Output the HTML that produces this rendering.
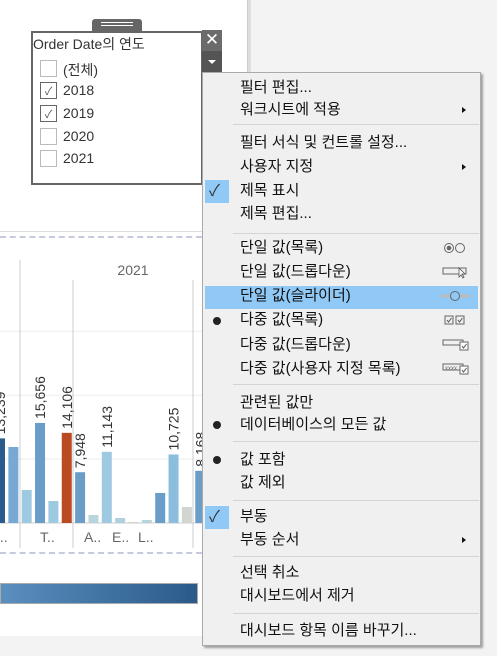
<!DOCTYPE html>
<html><head><meta charset="utf-8"><style>
*{margin:0;padding:0;box-sizing:border-box}
body{width:497px;height:656px;position:relative;overflow:hidden;background:#f3f3f3;font-family:"Liberation Sans","Noto Sans CJK KR",sans-serif}
.abs{position:absolute}
.mi{position:absolute;left:240px;font-size:15px;color:#111;line-height:22px;white-space:nowrap}
.sep{position:absolute;left:233px;width:246px;height:1px;background:#d4d4d4}
.arr{position:absolute;left:462px;width:0;height:0;border-top:3px solid transparent;border-bottom:3px solid transparent;border-left:4px solid #111}
.chk{position:absolute;left:205px;width:24px;height:23px;background:#90c8f6}
.dot{position:absolute;left:213px;width:8px;height:8px;border-radius:50%;background:#222}
.cb{position:absolute;left:40px;width:17px;height:17px;border:1px solid #bbb;background:#fff}
.cbl{position:absolute;left:63px;font-size:14px;color:#333}
</style></head><body>
<div class="abs" style="left:0;top:0;width:247px;height:636px;background:#fff"></div>
<div class="abs" style="left:247px;top:0;width:4px;height:636px;background:#ddd;border-left:1px solid #ccc"></div>
<div class="abs" style="left:0;top:231px;width:247px;height:1px;background:#ddd"></div>
<div class="abs" style="left:0;top:236px;width:202px;border-top:2px dashed #c5cbdc"></div>
<div class="abs" style="left:0;top:552px;width:202px;border-top:2px dashed #c5cbdc"></div>
<div class="abs" style="left:202px;top:232px;width:1px;height:404px;background:#ccc"></div>
<svg class="abs" style="left:0;top:0" width="202" height="636" id="chart"></svg>
<div class="abs" style="left:0;top:583px;width:198px;height:21px;border:1px solid #aaa;background:linear-gradient(to right,#5b8fbf,#2a5a88)"></div>

<div class="abs" style="left:92px;top:19px;width:50px;height:12px;background:#666;border-radius:3px 3px 0 0">
<div class="abs" style="left:9px;top:3px;width:32px;height:1px;background:#fff"></div><div class="abs" style="left:9px;top:6px;width:32px;height:1px;background:#fff"></div></div>
<div class="abs" style="left:31px;top:31px;width:172px;height:154px;border:2px solid #666;background:#fff"></div>
<div class="abs" style="left:33px;top:34px;font-size:14px;color:#333">Order Date의 연도</div>
<div class="cb" style="top:60px"></div><div class="cbl" style="top:60px">(전체)</div>
<div class="cb" style="top:82px;border-color:#666;font-size:11px;text-align:center;color:#555">✓</div><div class="cbl" style="top:82px">2018</div>
<div class="cb" style="top:105px;border-color:#666;font-size:11px;text-align:center;color:#555">✓</div><div class="cbl" style="top:105px">2019</div>
<div class="cb" style="top:128px"></div><div class="cbl" style="top:128px">2020</div>
<div class="cb" style="top:150px"></div><div class="cbl" style="top:150px">2021</div>
<div class="abs" style="left:202px;top:30px;width:20px;height:21px;background:#6b6b6b;color:#fff;font-size:17px;line-height:20px;text-align:center">✕</div>
<div class="abs" style="left:202px;top:51px;width:20px;height:21px;background:#545454">
<div class="abs" style="left:6px;top:9px;border-left:4px solid transparent;border-right:4px solid transparent;border-top:4px solid #fff"></div></div>

<div class="abs" style="left:202px;top:72px;width:279px;height:574px;background:#f0f0f0;border:1px solid #aaa;box-shadow:2px 2px 2px rgba(0,0,0,.35)"></div>
<div class="abs" style="left:205px;top:286px;width:273px;height:23px;background:#90c8f6"></div>
<div class="chk" style="top:180px"></div>
<div class="chk" style="top:506px"></div>
<div class="abs" style="left:209px;top:180px;font-size:16px;line-height:23px;color:#333">✓</div>
<div class="abs" style="left:209px;top:506px;font-size:16px;line-height:23px;color:#333">✓</div>
<div class="dot" style="top:317px"></div><div class="dot" style="top:421px"></div><div class="dot" style="top:456px"></div>

<div class="mi" style="top:77px">필터 편집...</div>
<div class="mi" style="top:99px">워크시트에 적용</div><div class="arr" style="top:107px"></div>
<div class="sep" style="top:124px"></div>
<div class="mi" style="top:132px">필터 서식 및 컨트롤 설정...</div>
<div class="mi" style="top:156px">사용자 지정</div><div class="arr" style="top:164px"></div>
<div class="mi" style="top:180px">제목 표시</div>
<div class="mi" style="top:203px">제목 편집...</div>
<div class="sep" style="top:233px"></div>
<div class="mi" style="top:237px">단일 값(목록)</div>
<div class="mi" style="top:261px">단일 값(드롭다운)</div>
<div class="mi" style="top:285px">단일 값(슬라이더)</div>
<div class="mi" style="top:309px">다중 값(목록)</div>
<div class="mi" style="top:334px">다중 값(드롭다운)</div>
<div class="mi" style="top:358px">다중 값(사용자 지정 목록)</div>
<svg class="abs" style="left:440px;top:238px" width="40" height="140">
<circle cx="9" cy="10" r="4.5" fill="none" stroke="#666"/><circle cx="9" cy="10" r="2.3" fill="#666"/><circle cx="20" cy="10" r="4.5" fill="none" stroke="#666"/>
<rect x="3" y="30" width="23" height="6" fill="none" stroke="#666"/><path d="M19 30 l0 9 l2-2 l2 3 l1-1 l-2-3 l3 0z" fill="#fff" stroke="#555" stroke-width=".8"/>
<line x1="1" y1="58" x2="30" y2="58" stroke="#bbb" stroke-width="3"/><circle cx="15" cy="58" r="4.5" fill="#90c8f6" stroke="#666"/>
<rect x="5" y="78" width="8" height="8" fill="none" stroke="#666"/><rect x="16" y="78" width="8" height="8" fill="none" stroke="#666"/>
<path d="M7 82l1.5 2 3-4M18 82l1.5 2 3-4" fill="none" stroke="#555"/>
<rect x="3" y="102" width="20" height="5" fill="none" stroke="#666"/><rect x="20" y="104" width="8" height="8" fill="#fff" stroke="#666"/><path d="M22 108l1.5 2 3-4" fill="none" stroke="#555"/>
<rect x="3" y="126" width="20" height="6" fill="none" stroke="#666"/><text x="5" y="132" font-size="6" fill="#666">xxxx</text><rect x="20" y="128" width="8" height="8" fill="#fff" stroke="#666"/><path d="M22 132l1.5 2 3-4" fill="none" stroke="#555"/>
</svg>
<div class="sep" style="top:384px"></div>
<div class="mi" style="top:392px">관련된 값만</div>
<div class="mi" style="top:414px">데이터베이스의 모든 값</div>
<div class="sep" style="top:441px"></div>
<div class="mi" style="top:449px">값 포함</div>
<div class="mi" style="top:472px">값 제외</div>
<div class="sep" style="top:500px"></div>
<div class="mi" style="top:506px">부동</div>
<div class="mi" style="top:529px">부동 순서</div><div class="arr" style="top:537px"></div>
<div class="sep" style="top:556px"></div>
<div class="mi" style="top:562px">선택 취소</div>
<div class="mi" style="top:585px">대시보드에서 제거</div>
<div class="sep" style="top:613px"></div>
<div class="mi" style="top:620px">대시보드 항목 이름 바꾸기...</div>

<script>
const values=[13239,11900,5160,15656,3440,14106,7948,1250,11143,780,160,470,4700,10725,2500,8168];
const labels=["13,239","","","15,656","","14,106","7,948","","11,143","","","","","10,725","","8,168"];
const colors=["#2b5b8b","#76a9d3","#9ecae1","#6a9ec9","#9ecae1","#b94a22","#6a9ec9","#b8d4dc","#9ecae1","#b0d0e0","#d0d4d0","#b8d4dc","#6a9ec9","#8abedc","#d0d5d0","#6a9ec9"];
const gridTicks=[10000,20000,30000];
const catLabels=[["...",-4],["T..",40],["A..",84],["E..",112],["L..",138]];
const NS="http://www.w3.org/2000/svg",svg=document.getElementById('chart');
const base=523,k=0.00639;
const y=v=>base-v*k, x=i=>-5+i*13.35;
function mk(t,a){const e=document.createElementNS(NS,t);for(const n in a)e.setAttribute(n,a[n]);svg.appendChild(e);return e;}
gridTicks.forEach(t=>{const l=mk('line',{x1:0,x2:202,y1:y(t),y2:y(t),stroke:'#eee'});

});
[[20,260],[73,280],[193,280]].forEach(p=>{const l=mk('line',{x1:p[0],x2:p[0],y1:p[1],y2:548,stroke:'#ccc'});

});
mk('line',{x1:0,x2:202,y1:base,y2:base,stroke:'#ccc'});
const h=mk('text',{x:133,y:275,'font-size':14,fill:'#666','text-anchor':'middle'});h.textContent='2021';


values.forEach((v,i)=>{
const r=mk('rect',{x:x(i),y:y(v),width:10,height:base-y(v),fill:colors[i]});


if(labels[i]){const t=mk('text',{transform:`translate(${x(i)+10},${y(v)-4}) rotate(-90)`,'font-size':14,fill:'#333'});t.textContent=labels[i];

}
});
catLabels.forEach(c=>{const t=mk('text',{x:c[1],y:542,'font-size':14,fill:'#666'});t.textContent=c[0];

});
</script>
</body></html>
